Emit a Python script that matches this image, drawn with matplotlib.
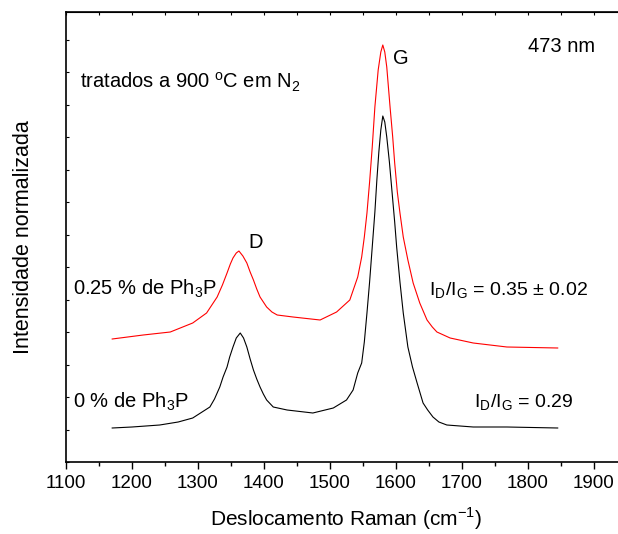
import numpy as np
import matplotlib
matplotlib.use('Agg')
import matplotlib.pyplot as plt
from matplotlib.ticker import MultipleLocator

plt.rcParams['font.family'] = ['Liberation Sans', 'DejaVu Sans']
plt.rcParams['mathtext.fontset'] = 'custom'
plt.rcParams['mathtext.rm'] = 'Liberation Sans'

# espectros Raman (intensidade em u.a.)
shift_0 = [1170, 1200, 1242, 1270, 1292, 1318, 1325, 1333, 1338, 1344,
           1348, 1353, 1358, 1364, 1369, 1374, 1379, 1384, 1389, 1394,
           1399, 1404, 1414, 1435, 1474, 1505, 1525, 1535, 1542, 1548,
           1552, 1556, 1560, 1564, 1568, 1571, 1574, 1577, 1580, 1583,
           1586, 1590, 1594, 1598, 1601, 1606, 1611, 1618, 1625, 1632,
           1641, 1648, 1656, 1665, 1677, 1717, 1768, 1845]
int_0 = [34, 35, 37, 40, 44, 55, 63, 75, 85, 95,
         105, 115, 124, 129, 124, 115, 103, 92, 83, 75,
         68, 62, 55, 52, 49, 54, 62, 72, 89, 99,
         120, 149, 180, 215, 250, 282, 310, 332, 346, 340,
         325, 300, 270, 240, 215, 180, 149, 115, 95, 79,
         59, 52, 45, 40, 37, 35, 35, 34]

shift_025 = [1170, 1217, 1258, 1292, 1313, 1329, 1337, 1344, 1349, 1353,
             1358, 1362, 1368, 1374, 1379, 1384, 1389, 1394, 1399, 1404,
             1412, 1420, 1444, 1485, 1510, 1530, 1542, 1548, 1552, 1556,
             1560, 1564, 1568, 1573, 1577, 1580, 1583, 1586, 1591, 1595,
             1598, 1602, 1606, 1611, 1618, 1626, 1636, 1647, 1655, 1662,
             1682, 1717, 1768, 1845]
int_025 = [123, 127, 130, 139, 149, 165, 177, 189, 198, 204,
           209, 211, 206, 199, 190, 182, 173, 165, 160, 155,
           150, 147, 145, 142, 150, 162, 185, 205, 225, 249,
           280, 315, 355, 392, 410, 417, 410, 395, 355, 325,
           299, 270, 249, 225, 202, 179, 159, 142, 135, 130,
           124, 119, 115, 114]

fig = plt.figure(figsize=(6.18, 5.34), dpi=100)
ax = fig.add_axes([66/618, 72/534, 561/618, 450/534])

ax.plot(shift_0, int_0, color='black', lw=0.8)
ax.plot(shift_025, int_025, color='red', lw=0.8)

ax.set_xlim(1100, 1950)
ax.set_ylim(0, 450)

ax.xaxis.set_major_locator(MultipleLocator(100))
ax.xaxis.set_minor_locator(MultipleLocator(50))
ax.tick_params(axis='x', which='major', direction='out', length=5, width=1,
               labelsize=13.5, top=False, pad=4)
ax.tick_params(axis='x', which='minor', direction='out', length=3, width=1, top=False)
ax.yaxis.set_major_locator(MultipleLocator(32.5))
ax.tick_params(axis='y', which='major', direction='in', length=2, width=0.8,
               labelleft=False)

# ticks internos no topo
top = ax.secondary_xaxis('top')
top.xaxis.set_major_locator(MultipleLocator(50))
top.tick_params(direction='in', length=2, width=0.8, labeltop=False)

for s in ['left', 'bottom']:
    ax.spines[s].set_linewidth(1.2)
top.spines['top'].set_linewidth(1.2)
ax.spines['right'].set_visible(False)

ax.set_xlabel('Deslocamento Raman (cm$^{\\mathregular{-1}}$)', fontsize=15, labelpad=10)
ax.set_ylabel('Intensidade normalizada', fontsize=15.5, labelpad=23)

fs = 14.5
ax.text(1851, 415, '473 nm', fontsize=fs, ha='center', va='center')
ax.text(1121, 374, 'tratados a 900 $^{\\mathregular{o}}$C em N$_{\\mathregular{2}}$',
        fontsize=fs, va='baseline')
ax.text(1595, 404, 'G', fontsize=fs, va='center')
ax.text(1376, 219, 'D', fontsize=fs, va='center')
ax.text(1111, 167, '0.25 % de Ph$_{\\mathregular{3}}$P', fontsize=fs, va='baseline')
ax.text(1111, 54, '0 % de Ph$_{\\mathregular{3}}$P', fontsize=fs, va='baseline')
ax.text(1650, 166, 'I$_{\\mathregular{D}}$/I$_{\\mathregular{G}}$ = 0.35 ± 0.02',
        fontsize=14, va='baseline')
ax.text(1718, 54, 'I$_{\\mathregular{D}}$/I$_{\\mathregular{G}}$ = 0.29',
        fontsize=14, va='baseline')

fig.savefig('out.png', dpi=100)
